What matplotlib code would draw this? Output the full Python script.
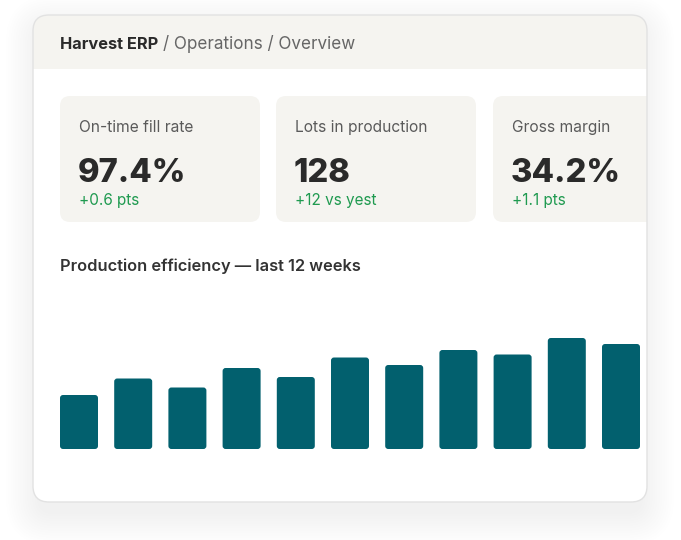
import matplotlib
matplotlib.use('Agg')
import matplotlib.pyplot as plt
from matplotlib.patches import FancyBboxPatch, Rectangle
import numpy as np

# ---- data ----
weeks = ['W1', 'W2', 'W3', 'W4', 'W5', 'W6', 'W7', 'W8', 'W9', 'W10', 'W11']
efficiency = [36, 47, 41, 54, 48, 61, 56, 66, 63, 74, 70]
kpi_labels = ['On-time fill rate', 'Lots in production', 'Gross margin']
kpi_values = ['97.4%', '128', '34.2%']
kpi_deltas = ['+0.6 pts', '+12 vs yest', '+1.1 pts']
crumb_root = 'Harvest ERP'
crumb_rest = '/ Operations / Overview'
chart_title = 'Production efficiency \u2014 last 12 weeks'

FONT = ['Inter', 'DejaVu Sans']
DARK = '#2a2a2a'
GRAY = '#666666'
GREEN = '#1f9a50'
PANEL = '#f5f4f0'
BAR = '#02606e'

W, H = 681, 540
fig = plt.figure(figsize=(W / 100, H / 100), dpi=100)
fig.patch.set_facecolor('white')
bg = fig.add_axes([0, 0, 1, 1])
bg.set_xlim(0, W)
bg.set_ylim(H, 0)
bg.axis('off')

# shadow (very soft)
cx, cy, cw, ch, cr = 33, 15, 614, 487, 16
for i in range(14):
    e = i * 2.4
    bg.add_patch(FancyBboxPatch((cx + 4 - e, cy + 12 - e), cw - 8 + 2 * e, ch + 2 * e,
                                boxstyle=f"round,pad=0,rounding_size={cr + e}",
                                fc='black', ec='none', alpha=0.0045, zorder=1))

card = FancyBboxPatch((cx, cy), cw, ch, boxstyle=f"round,pad=0,rounding_size={cr}",
                      fc='white', ec='none', zorder=2)
bg.add_patch(card)

header = Rectangle((cx, cy), cw, 54, fc=PANEL, ec='none', zorder=3)
bg.add_patch(header)
header.set_clip_path(card)

# breadcrumb
bg.text(60, 49, crumb_root, fontsize=11.8, fontweight='bold', color=DARK,
        family=FONT, va='baseline', ha='left', zorder=5)
bg.text(163, 49, crumb_rest, fontsize=12.3, color=GRAY,
        family=FONT, va='baseline', ha='left', zorder=5)

# KPI cards
kx = [60, 276, 493]
for i in range(3):
    p = FancyBboxPatch((kx[i], 96), 200, 126, boxstyle="round,pad=0,rounding_size=10",
                       fc=PANEL, ec='none', zorder=3)
    bg.add_patch(p)
    p.set_clip_path(card)
    tx = kx[i] + 19
    bg.text(tx, 132, kpi_labels[i], fontsize=11.2, color='#5a5a5a', family=FONT,
            va='baseline', ha='left', zorder=5)
    bg.text(tx - 1, 182, kpi_values[i], fontsize=23.6, fontweight='heavy', color=DARK,
            family=FONT, va='baseline', ha='left', zorder=5)
    bg.text(tx, 205, kpi_deltas[i], fontsize=11, color=GREEN, family=FONT,
            va='baseline', ha='left', zorder=5)

# card border on top
bg.add_patch(FancyBboxPatch((cx, cy), cw, ch, boxstyle=f"round,pad=0,rounding_size={cr}",
                            fc='none', ec='#e2e2e2', lw=1, zorder=6))

# chart title
bg.text(60, 271, chart_title, fontsize=11.8, fontweight='semibold', color='#333333',
        family=FONT, va='baseline', ha='left', zorder=5)

# bar chart
n = len(efficiency)
pitch_px, bar_px = 54.2, 38
bw = bar_px / pitch_px
half = bw / 2
ax_w_px = (n - 1) * pitch_px + bar_px
ax = fig.add_axes([60 / W, (H - 449) / H, ax_w_px / W, 150 / H])
ax.set_xlim(-half, n - 1 + half)
ax.set_ylim(0, 100)
ax.axis('off')
ax.patch.set_alpha(0)
x = np.arange(n)
bars = ax.bar(x, efficiency, width=bw, color=BAR)
aspect = (100 / 150) / (1 / pitch_px)
rs = 3 / pitch_px
for r in bars:
    r.set_visible(False)
    fb = FancyBboxPatch((r.get_x(), r.get_y()), r.get_width(), r.get_height(),
                        boxstyle=f"round,pad=0,rounding_size={rs}",
                        mutation_aspect=aspect, fc=BAR, ec='none')
    ax.add_patch(fb)

fig.savefig('out.png', dpi=100)
